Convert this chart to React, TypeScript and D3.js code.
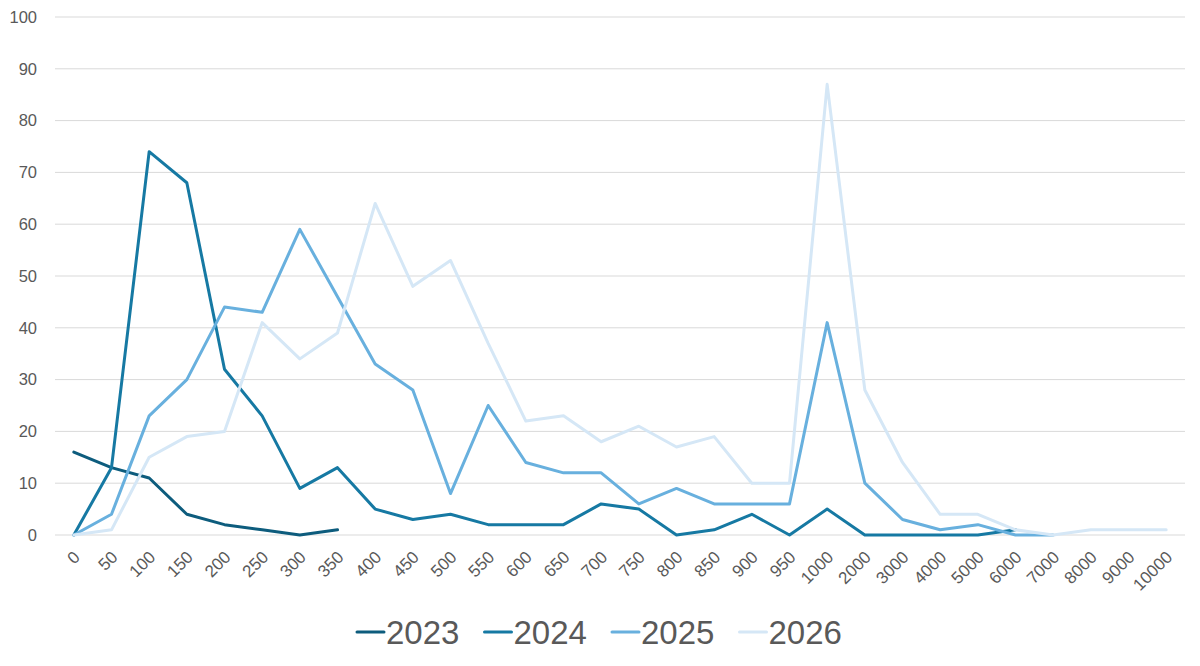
import React, { useEffect, useRef } from 'react';
import * as d3 from 'd3';

const categories = [
  '0', '50', '100', '150', '200', '250', '300', '350', '400', '450', '500',
  '550', '600', '650', '700', '750', '800', '850', '900', '950', '1000',
  '2000', '3000', '4000', '5000', '6000', '7000', '8000', '9000', '10000'
];

const seriesNames = ['2023', '2024', '2025', '2026'];
const seriesColors = ['#0d5c7d', '#1679a3', '#68b0de', '#d5e7f6'];

const values2023 = [16, 13, 11, 4, 2, 1, 0, 1];
const values2024 = [0, 13, 74, 68, 32, 23, 9, 13, 5, 3, 4, 2, 2, 2, 6, 5, 0, 1, 4, 0, 5, 0, 0, 0, 0, 1];
const values2025 = [0, 4, 23, 30, 44, 43, 59, 46, 33, 28, 8, 25, 14, 12, 12, 6, 9, 6, 6, 6, 41, 10, 3, 1, 2, 0, 0];
const values2026 = [0, 1, 15, 19, 20, 41, 34, 39, 64, 48, 53, 37, 22, 23, 18, 21, 17, 19, 10, 10, 87, 28, 14, 4, 4, 1, 0, 1, 1, 1];

const yTicks = [0, 10, 20, 30, 40, 50, 60, 70, 80, 90, 100];

const width = 1200;
const height = 666;
const font = "'Liberation Sans', Arial, sans-serif";

export default function App() {
  const svgRef = useRef<SVGSVGElement>(null);

  useEffect(() => {
    const svg = d3.select(svgRef.current);
    svg.selectAll('*').remove();

    const margin = { top: 17, right: 15, bottom: 131, left: 55 };
    const innerWidth = width - margin.left - margin.right;
    const innerHeight = height - margin.top - margin.bottom;

    const x = d3.scalePoint<string>()
      .domain(categories)
      .range([0, innerWidth])
      .padding(0.5);

    const y = d3.scaleLinear()
      .domain([0, 100])
      .range([innerHeight, 0]);

    const g = svg.append('g')
      .attr('transform', `translate(${margin.left},${margin.top})`);

    // gridlines
    g.append('g')
      .selectAll('line')
      .data(yTicks)
      .enter().append('line')
      .attr('x1', 0)
      .attr('x2', innerWidth)
      .attr('y1', d => y(d))
      .attr('y2', d => y(d))
      .attr('stroke', '#d9d9d9')
      .attr('stroke-width', 1);

    // y labels
    g.append('g')
      .selectAll('text')
      .data(yTicks)
      .enter().append('text')
      .attr('x', -18)
      .attr('y', d => y(d))
      .attr('dy', '0.35em')
      .attr('text-anchor', 'end')
      .style('font-family', font)
      .style('font-size', '16.5px')
      .style('fill', '#595959')
      .text(d => d);

    // x labels
    g.append('g')
      .selectAll('text')
      .data(categories)
      .enter().append('text')
      .attr('transform', d => `translate(${(x(d) as number) + 3},${innerHeight + 19}) rotate(-45)`)
      .attr('text-anchor', 'end')
      .attr('dy', '0.35em')
      .style('font-family', font)
      .style('font-size', '17px')
      .style('fill', '#595959')
      .text(d => d);

    const allSeries = [values2023, values2024, values2025, values2026];

    const line = d3.line<number>()
      .x((_, i) => x(categories[i]) as number)
      .y(d => y(d));

    allSeries.forEach((vals, si) => {
      g.append('path')
        .datum(vals)
        .attr('fill', 'none')
        .attr('stroke', seriesColors[si])
        .attr('stroke-width', 3)
        .attr('stroke-linejoin', 'round')
        .attr('stroke-linecap', 'round')
        .attr('d', line);
    });

    // legend
    const legendY = 632;
    const itemWidth = 127.5;
    const legendStart = 357;
    const legend = svg.append('g');
    seriesNames.forEach((name, i) => {
      const lx = legendStart + i * itemWidth;
      legend.append('line')
        .attr('x1', lx)
        .attr('x2', lx + 27)
        .attr('y1', legendY)
        .attr('y2', legendY)
        .attr('stroke', seriesColors[i])
        .attr('stroke-width', 3)
        .attr('stroke-linecap', 'round');
      legend.append('text')
        .attr('x', lx + 29)
        .attr('y', legendY)
        .attr('dy', '0.35em')
        .style('font-family', font)
        .style('font-size', '33px')
        .style('fill', '#595959')
        .text(name);
    });
  }, []);

  return (
    <svg
      ref={svgRef}
      width={width}
      height={height}
      style={{ position: 'absolute', left: 0, top: 0, background: '#fff' }}
    />
  );
}
